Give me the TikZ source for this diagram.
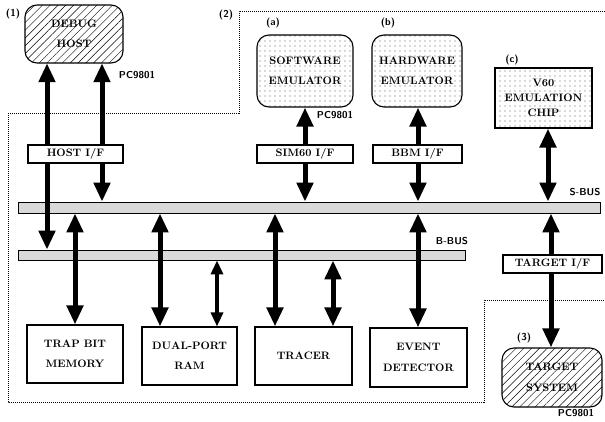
\documentclass[tikz,border=0pt]{standalone}
\usetikzlibrary{arrows.meta,patterns.meta}
\begin{document}
\begin{tikzpicture}[x=1pt,y=-1pt,
  box/.style={draw,line width=1.1pt,fill=white,inner sep=0pt,align=center,
    font=\bfseries\fontsize{10.8}{20.5}\selectfont},
  rbox/.style={box,rounded corners=12pt},
  hatchbox/.style={rbox,fill=none,pattern={Lines[angle=45,distance=5.5pt,line width=0.45pt]}},
  dotbox/.style={fill=none,pattern={Dots[distance=5pt,radius=0.7pt]},pattern color=black!65},
  bus/.style={draw,line width=0.8pt,fill=gray!30,inner sep=0pt,minimum height=11pt},
  lab/.style={font=\sffamily\bfseries\fontsize{10}{11}\selectfont,inner sep=0pt},
  region/.style={line width=1pt,dash pattern=on 1pt off 1pt},
  bigtip/.tip={Triangle[width=16pt,length=19pt]},
  smalltip/.tip={Triangle[width=12pt,length=14pt]},
  bi/.style={line width=5pt,{bigtip}-{bigtip}},
  headstart/.style={line width=5pt,{bigtip}-},
  headend/.style={line width=5pt,-{bigtip}},
  thinbi/.style={line width=3.2pt,{smalltip}-{smalltip}}]
\useasboundingbox (0,0) rectangle (605,421);

% region (2)
\draw[region] (8,113) -- (239,113) -- (239,11) -- (605,11);
\draw[region] (8,113) -- (8,402) -- (484,402) -- (484,300) -- (605,300);

% buses
\node[bus,minimum width=582pt] (sbus) at (309,207.5) {};
\node[bus,minimum width=447pt,minimum height=10pt] (bbus) at (241.5,255) {};

% boxes
\node[hatchbox,minimum width=98pt,minimum height=58pt] (host) at (74,34) {DEBUG\\HOST};
\node[box,minimum width=95pt,minimum height=18pt] (hostif) at (75.5,154) {HOST I/F};
\node[rbox,dotbox,minimum width=96pt,minimum height=72pt] (se) at (305,71) {SOFTWARE\\EMULATOR};
\node[rbox,dotbox,minimum width=90pt,minimum height=72pt] (he) at (417,71) {HARDWARE\\EMULATOR};
\node[box,dotbox,minimum width=97pt,minimum height=60pt,font=\bfseries\fontsize{10.8}{15}\selectfont] (v60) at (543.5,98) {V60\\EMULATION\\CHIP};
\node[box,minimum width=96pt,minimum height=18pt] (simif) at (305,154) {SIM60 I/F};
\node[box,minimum width=89pt,minimum height=18pt] (bbmif) at (417.5,154) {BBM I/F};
\node[box,minimum width=99pt,minimum height=18pt] (targetif) at (552.5,264) {TARGET I/F};
\node[box,minimum width=96pt,minimum height=58pt] (tbm) at (75,354) {TRAP BIT\\MEMORY};
\node[box,minimum width=95pt,minimum height=58pt] (dpram) at (189.5,356) {DUAL-PORT\\RAM};
\node[box,minimum width=97pt,minimum height=58pt] (tracer) at (303.5,356) {TRACER};
\node[box,minimum width=97pt,minimum height=59pt] (event) at (418.5,357.5) {EVENT\\DETECTOR};
\node[hatchbox,minimum width=100pt,minimum height=59pt] (target) at (552,377.5) {TARGET\\SYSTEM};

% labels
\node[lab] (l1) at (13,14) {(1)};
\node[lab] (l2) at (226,15) {(2)};
\node[lab] (la) at (273,23) {(a)};
\node[lab] (lb) at (388,23) {(b)};
\node[lab] (lc) at (512,60) {(c)};
\node[lab] (l3) at (524,338) {(3)};
\node[lab] (pc1) at (137,75) {PC9801};
\node[lab] (pc2) at (335,115) {PC9801};
\node[lab] (pc3) at (576,413) {PC9801};
\node[lab] (sl) at (585,192) {S-BUS};
\node[lab] (bl) at (452,241) {B-BUS};

% x positions of connectors
\coordinate (xa) at (47,0);
\coordinate (xb) at (102,0);
\coordinate (xc) at (305,0);
\coordinate (xd) at (418,0);
\coordinate (xe) at (548,0);
\coordinate (xf) at (551,0);
\coordinate (xg) at (75,0);
\coordinate (xh) at (160,0);
\coordinate (xi) at (217,0);
\coordinate (xj) at (275,0);
\coordinate (xk) at (333,0);

% connectors
\draw[headstart] (xa |- host.south) -- (xa |- hostif.north);
\draw[headend] (xa |- hostif.south) -- (xa |- bbus.north);
\draw[headstart] (xb |- host.south) -- (xb |- hostif.north);
\draw[headend] (xb |- hostif.south) -- (xb |- sbus.north);
\draw[headstart] (xc |- se.south) -- (xc |- simif.north);
\draw[headend] (xc |- simif.south) -- (xc |- sbus.north);
\draw[headstart] (xd |- he.south) -- (xd |- bbmif.north);
\draw[headend] (xd |- bbmif.south) -- (xd |- sbus.north);
\draw[bi] (xe |- v60.south) -- (xe |- sbus.north);
\draw[headstart] (xf |- sbus.south) -- (xf |- targetif.north);
\draw[headend] (xf |- targetif.south) -- (xf |- target.north);
\draw[bi] (xd |- sbus.south) -- (xd |- event.north);
\draw[bi] (xg |- sbus.south) -- (xg |- tbm.north);
\draw[bi] (xh |- sbus.south) -- (xh |- dpram.north);
\draw[thinbi] (xi |- bbus.south) -- (xi |- dpram.north);
\draw[bi] (xj |- sbus.south) -- (xj |- tracer.north);
\draw[bi] (xk |- bbus.south) -- (xk |- tracer.north);
\end{tikzpicture}
\end{document}
